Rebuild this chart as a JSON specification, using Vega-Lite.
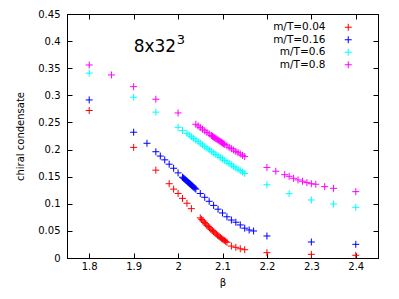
{
  "$schema": "https://vega.github.io/schema/vega-lite/v6.json",
  "width": 311,
  "height": 244,
  "autosize": "none",
  "padding": {"left": 67, "top": 14, "right": 21, "bottom": 41},
  "background": "white",
  "config": {
    "font": "DejaVu Sans",
    "view": {"stroke": "black", "strokeWidth": 1},
    "axis": {
      "grid": false,
      "domainColor": "black",
      "tickColor": "black",
      "labelColor": "black",
      "titleColor": "black",
      "labelFontSize": 10,
      "titleFontSize": 10,
      "titleFontWeight": "normal",
      "tickSize": -5,
      "labelFont": "DejaVu Sans",
      "titleFont": "DejaVu Sans"
    }
  },
  "datasets": {
    "pts": [
      {"b": 1.8, "c": 0.272, "m": "m/T=0.04"},
      {"b": 1.9, "c": 0.204, "m": "m/T=0.04"},
      {"b": 1.95, "c": 0.162, "m": "m/T=0.04"},
      {"b": 1.98, "c": 0.137, "m": "m/T=0.04"},
      {"b": 1.99, "c": 0.127, "m": "m/T=0.04"},
      {"b": 2.0, "c": 0.119, "m": "m/T=0.04"},
      {"b": 2.01, "c": 0.110, "m": "m/T=0.04"},
      {"b": 2.02, "c": 0.101, "m": "m/T=0.04"},
      {"b": 2.03, "c": 0.091, "m": "m/T=0.04"},
      {"b": 2.05, "c": 0.0740, "m": "m/T=0.04"},
      {"b": 2.053, "c": 0.0712, "m": "m/T=0.04"},
      {"b": 2.056, "c": 0.0684, "m": "m/T=0.04"},
      {"b": 2.059, "c": 0.0657, "m": "m/T=0.04"},
      {"b": 2.062, "c": 0.0631, "m": "m/T=0.04"},
      {"b": 2.065, "c": 0.0605, "m": "m/T=0.04"},
      {"b": 2.068, "c": 0.0580, "m": "m/T=0.04"},
      {"b": 2.071, "c": 0.0555, "m": "m/T=0.04"},
      {"b": 2.074, "c": 0.0531, "m": "m/T=0.04"},
      {"b": 2.077, "c": 0.0508, "m": "m/T=0.04"},
      {"b": 2.08, "c": 0.0485, "m": "m/T=0.04"},
      {"b": 2.083, "c": 0.0463, "m": "m/T=0.04"},
      {"b": 2.086, "c": 0.0441, "m": "m/T=0.04"},
      {"b": 2.089, "c": 0.0420, "m": "m/T=0.04"},
      {"b": 2.092, "c": 0.0400, "m": "m/T=0.04"},
      {"b": 2.095, "c": 0.0380, "m": "m/T=0.04"},
      {"b": 2.098, "c": 0.0361, "m": "m/T=0.04"},
      {"b": 2.101, "c": 0.0342, "m": "m/T=0.04"},
      {"b": 2.104, "c": 0.0324, "m": "m/T=0.04"},
      {"b": 2.107, "c": 0.0307, "m": "m/T=0.04"},
      {"b": 2.11, "c": 0.0290, "m": "m/T=0.04"},
      {"b": 2.12, "c": 0.0220, "m": "m/T=0.04"},
      {"b": 2.13, "c": 0.0197, "m": "m/T=0.04"},
      {"b": 2.14, "c": 0.0170, "m": "m/T=0.04"},
      {"b": 2.15, "c": 0.0153, "m": "m/T=0.04"},
      {"b": 2.2, "c": 0.0098, "m": "m/T=0.04"},
      {"b": 2.3, "c": 0.0068, "m": "m/T=0.04"},
      {"b": 2.4, "c": 0.0050, "m": "m/T=0.04"},

      {"b": 1.8, "c": 0.2915, "m": "m/T=0.16"},
      {"b": 1.9, "c": 0.232, "m": "m/T=0.16"},
      {"b": 1.93, "c": 0.2116, "m": "m/T=0.16"},
      {"b": 1.95, "c": 0.196, "m": "m/T=0.16"},
      {"b": 1.96, "c": 0.188, "m": "m/T=0.16"},
      {"b": 1.97, "c": 0.181, "m": "m/T=0.16"},
      {"b": 1.98, "c": 0.173, "m": "m/T=0.16"},
      {"b": 1.99, "c": 0.1655, "m": "m/T=0.16"},
      {"b": 2.0, "c": 0.157, "m": "m/T=0.16"},
      {"b": 2.01, "c": 0.1490, "m": "m/T=0.16"},
      {"b": 2.012, "c": 0.1475, "m": "m/T=0.16"},
      {"b": 2.014, "c": 0.1461, "m": "m/T=0.16"},
      {"b": 2.016, "c": 0.1446, "m": "m/T=0.16"},
      {"b": 2.018, "c": 0.1431, "m": "m/T=0.16"},
      {"b": 2.02, "c": 0.1417, "m": "m/T=0.16"},
      {"b": 2.022, "c": 0.1402, "m": "m/T=0.16"},
      {"b": 2.024, "c": 0.1387, "m": "m/T=0.16"},
      {"b": 2.026, "c": 0.1373, "m": "m/T=0.16"},
      {"b": 2.028, "c": 0.1358, "m": "m/T=0.16"},
      {"b": 2.03, "c": 0.1343, "m": "m/T=0.16"},
      {"b": 2.032, "c": 0.1329, "m": "m/T=0.16"},
      {"b": 2.034, "c": 0.1314, "m": "m/T=0.16"},
      {"b": 2.036, "c": 0.1299, "m": "m/T=0.16"},
      {"b": 2.038, "c": 0.1285, "m": "m/T=0.16"},
      {"b": 2.04, "c": 0.1270, "m": "m/T=0.16"},
      {"b": 2.05, "c": 0.119, "m": "m/T=0.16"},
      {"b": 2.06, "c": 0.112, "m": "m/T=0.16"},
      {"b": 2.07, "c": 0.1046, "m": "m/T=0.16"},
      {"b": 2.08, "c": 0.097, "m": "m/T=0.16"},
      {"b": 2.09, "c": 0.090, "m": "m/T=0.16"},
      {"b": 2.1, "c": 0.083, "m": "m/T=0.16"},
      {"b": 2.11, "c": 0.076, "m": "m/T=0.16"},
      {"b": 2.12, "c": 0.070, "m": "m/T=0.16"},
      {"b": 2.13, "c": 0.066, "m": "m/T=0.16"},
      {"b": 2.14, "c": 0.061, "m": "m/T=0.16"},
      {"b": 2.15, "c": 0.055, "m": "m/T=0.16"},
      {"b": 2.16, "c": 0.0517, "m": "m/T=0.16"},
      {"b": 2.17, "c": 0.0498, "m": "m/T=0.16"},
      {"b": 2.2, "c": 0.0406, "m": "m/T=0.16"},
      {"b": 2.3, "c": 0.0295, "m": "m/T=0.16"},
      {"b": 2.4, "c": 0.0252, "m": "m/T=0.16"},

      {"b": 1.8, "c": 0.341, "m": "m/T=0.6"},
      {"b": 1.9, "c": 0.2965, "m": "m/T=0.6"},
      {"b": 1.95, "c": 0.269, "m": "m/T=0.6"},
      {"b": 2.0, "c": 0.241, "m": "m/T=0.6"},
      {"b": 2.01, "c": 0.235, "m": "m/T=0.6"},
      {"b": 2.02, "c": 0.2300, "m": "m/T=0.6"},
      {"b": 2.025, "c": 0.2269, "m": "m/T=0.6"},
      {"b": 2.03, "c": 0.2237, "m": "m/T=0.6"},
      {"b": 2.035, "c": 0.2206, "m": "m/T=0.6"},
      {"b": 2.04, "c": 0.2176, "m": "m/T=0.6"},
      {"b": 2.045, "c": 0.2145, "m": "m/T=0.6"},
      {"b": 2.05, "c": 0.2115, "m": "m/T=0.6"},
      {"b": 2.055, "c": 0.2085, "m": "m/T=0.6"},
      {"b": 2.06, "c": 0.2055, "m": "m/T=0.6"},
      {"b": 2.065, "c": 0.2026, "m": "m/T=0.6"},
      {"b": 2.07, "c": 0.1996, "m": "m/T=0.6"},
      {"b": 2.075, "c": 0.1967, "m": "m/T=0.6"},
      {"b": 2.08, "c": 0.1939, "m": "m/T=0.6"},
      {"b": 2.085, "c": 0.1910, "m": "m/T=0.6"},
      {"b": 2.09, "c": 0.1882, "m": "m/T=0.6"},
      {"b": 2.095, "c": 0.1854, "m": "m/T=0.6"},
      {"b": 2.1, "c": 0.1826, "m": "m/T=0.6"},
      {"b": 2.105, "c": 0.1798, "m": "m/T=0.6"},
      {"b": 2.11, "c": 0.1771, "m": "m/T=0.6"},
      {"b": 2.115, "c": 0.1744, "m": "m/T=0.6"},
      {"b": 2.12, "c": 0.1717, "m": "m/T=0.6"},
      {"b": 2.125, "c": 0.1690, "m": "m/T=0.6"},
      {"b": 2.13, "c": 0.1663, "m": "m/T=0.6"},
      {"b": 2.135, "c": 0.1637, "m": "m/T=0.6"},
      {"b": 2.14, "c": 0.1611, "m": "m/T=0.6"},
      {"b": 2.145, "c": 0.1586, "m": "m/T=0.6"},
      {"b": 2.15, "c": 0.1560, "m": "m/T=0.6"},
      {"b": 2.2, "c": 0.135, "m": "m/T=0.6"},
      {"b": 2.25, "c": 0.1187, "m": "m/T=0.6"},
      {"b": 2.3, "c": 0.107, "m": "m/T=0.6"},
      {"b": 2.35, "c": 0.0996, "m": "m/T=0.6"},
      {"b": 2.4, "c": 0.0935, "m": "m/T=0.6"},

      {"b": 1.8, "c": 0.356, "m": "m/T=0.8"},
      {"b": 1.85, "c": 0.3376, "m": "m/T=0.8"},
      {"b": 1.9, "c": 0.316, "m": "m/T=0.8"},
      {"b": 1.95, "c": 0.2928, "m": "m/T=0.8"},
      {"b": 2.0, "c": 0.2675, "m": "m/T=0.8"},
      {"b": 2.04, "c": 0.2466, "m": "m/T=0.8"},
      {"b": 2.045, "c": 0.2436, "m": "m/T=0.8"},
      {"b": 2.05, "c": 0.2405, "m": "m/T=0.8"},
      {"b": 2.055, "c": 0.2375, "m": "m/T=0.8"},
      {"b": 2.06, "c": 0.2346, "m": "m/T=0.8"},
      {"b": 2.065, "c": 0.2317, "m": "m/T=0.8"},
      {"b": 2.07, "c": 0.2288, "m": "m/T=0.8"},
      {"b": 2.075, "c": 0.2259, "m": "m/T=0.8"},
      {"b": 2.0775, "c": 0.2245, "m": "m/T=0.8"},
      {"b": 2.08, "c": 0.2231, "m": "m/T=0.8"},
      {"b": 2.0825, "c": 0.2217, "m": "m/T=0.8"},
      {"b": 2.085, "c": 0.2203, "m": "m/T=0.8"},
      {"b": 2.0875, "c": 0.2189, "m": "m/T=0.8"},
      {"b": 2.09, "c": 0.2175, "m": "m/T=0.8"},
      {"b": 2.0925, "c": 0.2161, "m": "m/T=0.8"},
      {"b": 2.095, "c": 0.2148, "m": "m/T=0.8"},
      {"b": 2.0975, "c": 0.2134, "m": "m/T=0.8"},
      {"b": 2.1, "c": 0.2121, "m": "m/T=0.8"},
      {"b": 2.1025, "c": 0.2107, "m": "m/T=0.8"},
      {"b": 2.105, "c": 0.2094, "m": "m/T=0.8"},
      {"b": 2.11, "c": 0.2068, "m": "m/T=0.8"},
      {"b": 2.115, "c": 0.2042, "m": "m/T=0.8"},
      {"b": 2.12, "c": 0.2017, "m": "m/T=0.8"},
      {"b": 2.125, "c": 0.1992, "m": "m/T=0.8"},
      {"b": 2.13, "c": 0.1966, "m": "m/T=0.8"},
      {"b": 2.135, "c": 0.1942, "m": "m/T=0.8"},
      {"b": 2.14, "c": 0.1918, "m": "m/T=0.8"},
      {"b": 2.145, "c": 0.1894, "m": "m/T=0.8"},
      {"b": 2.15, "c": 0.1870, "m": "m/T=0.8"},
      {"b": 2.2, "c": 0.167, "m": "m/T=0.8"},
      {"b": 2.22, "c": 0.160, "m": "m/T=0.8"},
      {"b": 2.24, "c": 0.1537, "m": "m/T=0.8"},
      {"b": 2.25, "c": 0.1507, "m": "m/T=0.8"},
      {"b": 2.26, "c": 0.147, "m": "m/T=0.8"},
      {"b": 2.27, "c": 0.144, "m": "m/T=0.8"},
      {"b": 2.28, "c": 0.1415, "m": "m/T=0.8"},
      {"b": 2.29, "c": 0.139, "m": "m/T=0.8"},
      {"b": 2.3, "c": 0.137, "m": "m/T=0.8"},
      {"b": 2.31, "c": 0.136, "m": "m/T=0.8"},
      {"b": 2.33, "c": 0.1316, "m": "m/T=0.8"},
      {"b": 2.35, "c": 0.1285, "m": "m/T=0.8"},
      {"b": 2.4, "c": 0.1224, "m": "m/T=0.8"}
    ],
    "note": [
      {"b": 1.9, "c": 0.379, "t": "8x32", "s": "3"}
    ]
  },
  "layer": [
    {
      "data": {"name": "pts"},
      "mark": {"type": "point", "shape": "M-1,0L1,0M0,-1L0,1", "filled": false, "size": 49, "strokeWidth": 1, "opacity": 1},
      "encoding": {
        "x": {
          "field": "b", "type": "quantitative",
          "scale": {"domain": [1.75, 2.45], "nice": false, "zero": false},
          "axis": {"orient": "bottom", "title": "β", "values": [1.8, 1.9, 2.0, 2.1, 2.2, 2.3, 2.4], "format": "~g", "labelPadding": 8, "titlePadding": 6}
        },
        "y": {
          "field": "c", "type": "quantitative",
          "scale": {"domain": [0, 0.45], "nice": false, "zero": false},
          "axis": {"orient": "left", "title": "chiral condensate", "values": [0, 0.05, 0.1, 0.15, 0.2, 0.25, 0.3, 0.35, 0.4, 0.45], "format": "~g", "labelPadding": 12, "titlePadding": 12}
        },
        "color": {
          "field": "m", "type": "nominal",
          "scale": {"domain": ["m/T=0.04", "m/T=0.16", "m/T=0.6", "m/T=0.8"], "range": ["#ff0000", "#0000ff", "#00ffff", "#ff00ff"]},
          "legend": {
            "orient": "none", "legendX": 276, "legendY": 8, "title": null, "padding": 0,
            "labelAlign": "right", "labelOffset": -28, "labelFontSize": 10.5, "labelColor": "black", "labelFont": "DejaVu Sans",
            "symbolType": "M-1,0L1,0M0,-1L0,1", "symbolSize": 49, "symbolStrokeWidth": 1, "rowPadding": 0.5
          }
        }
      }
    },
    {
      "data": {"name": "note"},
      "mark": {"type": "text", "align": "left", "baseline": "alphabetic", "fontSize": 17, "font": "DejaVu Sans", "color": "black"},
      "encoding": {
        "x": {"field": "b", "type": "quantitative", "axis": {"orient": "top", "title": null, "labels": false, "values": [1.8, 1.9, 2.0, 2.1, 2.2, 2.3, 2.4]}},
        "y": {"field": "c", "type": "quantitative", "axis": {"orient": "right", "title": null, "labels": false, "values": [0, 0.05, 0.1, 0.15, 0.2, 0.25, 0.3, 0.35, 0.4, 0.45]}},
        "text": {"field": "t"}
      }
    },
    {
      "data": {"name": "note"},
      "mark": {"type": "text", "align": "left", "baseline": "alphabetic", "fontSize": 13, "font": "DejaVu Sans", "color": "black", "dx": 43, "dy": -8},
      "encoding": {
        "x": {"field": "b", "type": "quantitative", "axis": null},
        "y": {"field": "c", "type": "quantitative", "axis": null},
        "text": {"field": "s"}
      }
    }
  ],
  "resolve": {"axis": {"x": "independent", "y": "independent"}}
}
